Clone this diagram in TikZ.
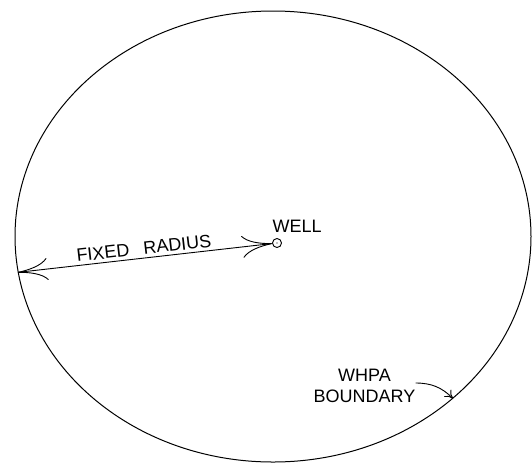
\documentclass[tikz,border=0pt]{standalone}
\usepackage{fontspec}
\setmainfont{Liberation Sans}
\usetikzlibrary{arrows.meta,shapes.geometric,positioning}

\begin{document}
\begin{tikzpicture}[
  x=1pt, y=-1pt,
  every node/.style={font=\fontsize{18}{21}\selectfont},
  boundary/.style={ellipse, draw, line width=1pt, minimum width=516pt, minimum height=451pt, inner sep=0pt},
  wellpt/.style={circle, draw, line width=0.9pt, minimum size=9pt, inner sep=0pt},
  lbl/.style={inner sep=0pt, align=center},
  radarrow/.style={line width=0.9pt, {Computer Modern Rightarrow[length=30pt,width=22pt]}-{Computer Modern Rightarrow[length=30pt,width=22pt]}}
]
\useasboundingbox (0,0) rectangle (532,464);
\node[boundary] (bdry) at (273,236.5) {};
\node[wellpt] (well) at (277,243) {};
\fill (well.center) circle (0.7pt);
\node[lbl, above right=5pt and -4.5pt of well.north] (welltxt) {WELL};
\draw[radarrow] (bdry.188.6) -- (well) node[midway, above=3pt, sloped, lbl] (radtxt) {FIXED\hspace{0.8em}RADIUS};
\node[lbl] (bndtxt) at (364.5,386) {WHPA\\BOUNDARY};
\coordinate (btail) at ([yshift=3pt]bndtxt.east);
\draw[line width=0.9pt, -{Computer Modern Rightarrow[length=8pt,width=10pt]}] (btail) to[out=0, in=135] (bdry.318.2);
\end{tikzpicture}
\end{document}
